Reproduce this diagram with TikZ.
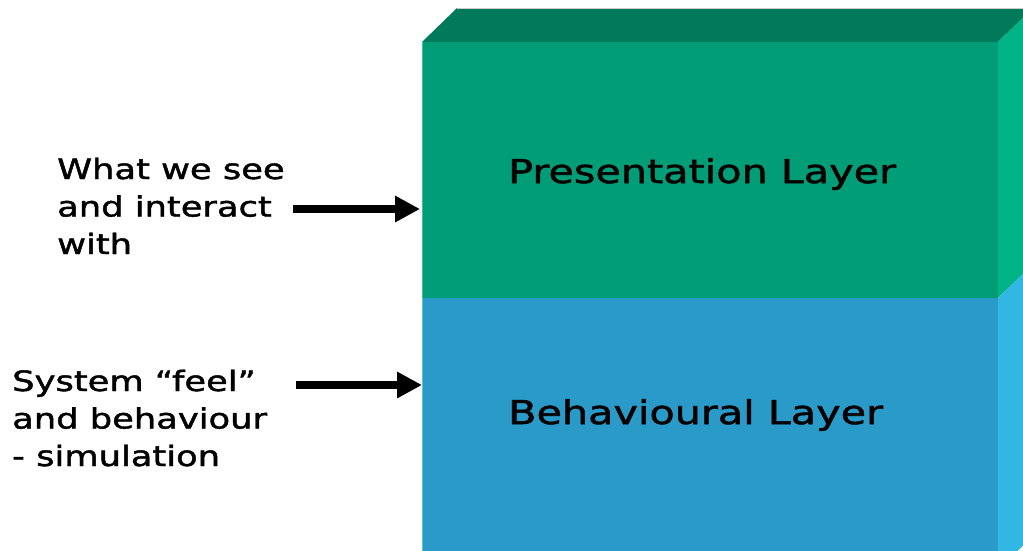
\documentclass[tikz,border=0pt]{standalone}
\usepackage{fontspec}
\setmainfont{DejaVu Sans}[FakeStretch=1.26,FakeBold=1.6]
\usetikzlibrary{arrows.meta}
\definecolor{grnfront}{RGB}{0,157,119}
\definecolor{grntop}{RGB}{0,122,90}
\definecolor{grnside}{RGB}{0,180,136}
\definecolor{blufront}{RGB}{42,154,200}
\definecolor{bluside}{RGB}{50,182,228}
\begin{document}
\begin{tikzpicture}[x=1pt,y=-1pt,
  sidelbl/.style={anchor=base west, inner sep=0pt, font=\fontsize{28}{37.5}\selectfont},
  layerlbl/.style={anchor=base west, inner sep=0pt, font=\fontsize{32.8}{36}\selectfont},
  pointer/.style={line width=8pt, -{Triangle[length=25pt,width=25pt]}}]
\useasboundingbox (0,0) rectangle (1023,550);
\clip (0,0) rectangle (1023,550);
% box faces
\fill[grntop] (422,42) -- (457,8) -- (1033,8) -- (998,42) -- cycle;
\draw[gray!40, line width=0.8pt] (457,8.4) -- (1033,8.4);
\fill[grnfront] (422,42) rectangle (998,298);
\fill[grnside] (998,42) -- (1033,8) -- (1033,264) -- (998,298) -- cycle;
\fill[blufront] (422,298) rectangle (998,570);
\fill[bluside] (998,298) -- (1033,264) -- (1033,536) -- (998,570) -- cycle;
\draw[grnfront!70!white, line width=1pt] (422.5,42) -- (422.5,298);
\draw[blufront!70!white, line width=1pt] (422.5,298) -- (422.5,570);
\coordinate (presEdge) at (420,209);
\coordinate (behEdge) at (422,385);
% layer labels
\node[layerlbl] (pres) at (508,183) {Presentation Layer};
\node[layerlbl] (beh) at (508,424) {Behavioural Layer};
% side labels
\node[sidelbl] (see) at (57,179) {\begin{tabular}[t]{@{}l@{}}What we see\\and interact\\with\end{tabular}};
\node[sidelbl] (feel) at (12,391) {\begin{tabular}[t]{@{}l@{}}System “feel”\\and behaviour\\- simulation\end{tabular}};
\coordinate (seeStart) at (293,209);
\coordinate (feelStart) at (296,385);
\draw[pointer] (seeStart) -- (presEdge);
\draw[pointer] (feelStart) -- (behEdge);
\end{tikzpicture}
\end{document}
